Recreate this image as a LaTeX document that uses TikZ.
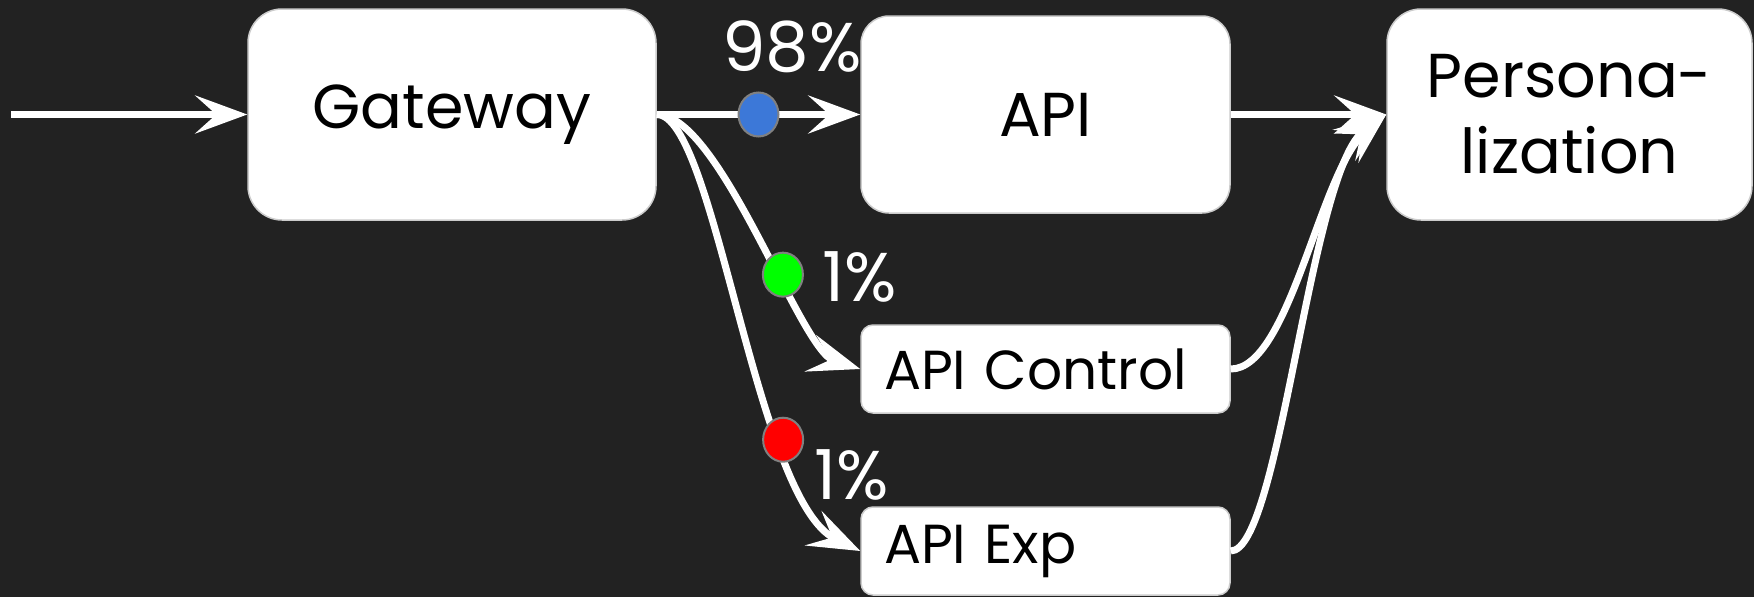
\documentclass[tikz,border=0pt]{standalone}
\usepackage{fontspec}
\setmainfont{Poppins}
\usetikzlibrary{arrows.meta,shapes.geometric}
\definecolor{bg}{HTML}{222222}
\definecolor{dotblue}{HTML}{3C78D8}
\definecolor{dotgreen}{HTML}{00FF00}
\definecolor{dotred}{HTML}{FF0000}
\begin{document}
\begin{tikzpicture}[x=1pt,y=-1pt,
  box/.style={draw=gray!40, line width=1.5pt, fill=white, inner sep=0pt, text=black},
  bigbox/.style={box, rounded corners=34pt, font=\fontsize{62}{76}\selectfont, align=center},
  smallbox/.style={box, rounded corners=12pt, minimum width=369pt, minimum height=88pt,
     text width=323pt, align=left, font=\fontsize{55}{60}\selectfont},
  flow/.style={draw=white, line width=7pt, -{Stealth[length=52pt,width=38pt,inset=21pt]}},
  dot/.style={ellipse, draw=gray, line width=2pt, minimum width=40pt, minimum height=44pt, inner sep=0pt},
  pct/.style={text=white, font=\fontsize{69}{76}\selectfont, inner sep=0pt},
]
\useasboundingbox (0,0) rectangle (1754,597);
\fill[bg] (0,0) rectangle (1754,597);

\node[bigbox, minimum width=408pt, minimum height=211pt] (gw) at (452,114.5) {Gateway};
\node[bigbox, rounded corners=28pt, minimum width=369pt, minimum height=197pt] (api) at (1045.5,114.5) {API};
\node[bigbox, minimum width=365pt, minimum height=211pt] (pers) at (1569.5,114.5) {Persona-\\lization};
\node[smallbox] (ctrl) at (1045.5,369) {API Control};
\node[smallbox] (exp) at (1045.5,551) {API Exp};

\coordinate (in) at (11,114.5);
\draw[flow] (in) -- (gw.west);

\draw[flow] (gw.east) .. controls (715,114) and (755,500) .. (exp.west)
  node[dot, fill=dotred, pos=0.71] (dr) {};
\draw[flow] (gw.east) .. controls (720,114) and (800,350) .. (ctrl.west)
  node[dot, fill=dotgreen, pos=0.61] (dg) {};
\draw[flow] (gw.east) -- (api.west) node[dot, fill=dotblue, pos=0.5] (db) {};

\draw[flow] (ctrl.east) .. controls (1290,369) and (1320,170) .. (pers.west);
\draw[flow] (exp.east) .. controls (1280,551) and (1310,170) .. (pers.west);
\draw[flow] (api.east) -- (pers.west);

\node[pct] (l98) at (792,47) {98\%};
\node[pct] (l1a) at (860,277) {1\%};
\node[pct] (l1b) at (852,475) {1\%};
\end{tikzpicture}
\end{document}
